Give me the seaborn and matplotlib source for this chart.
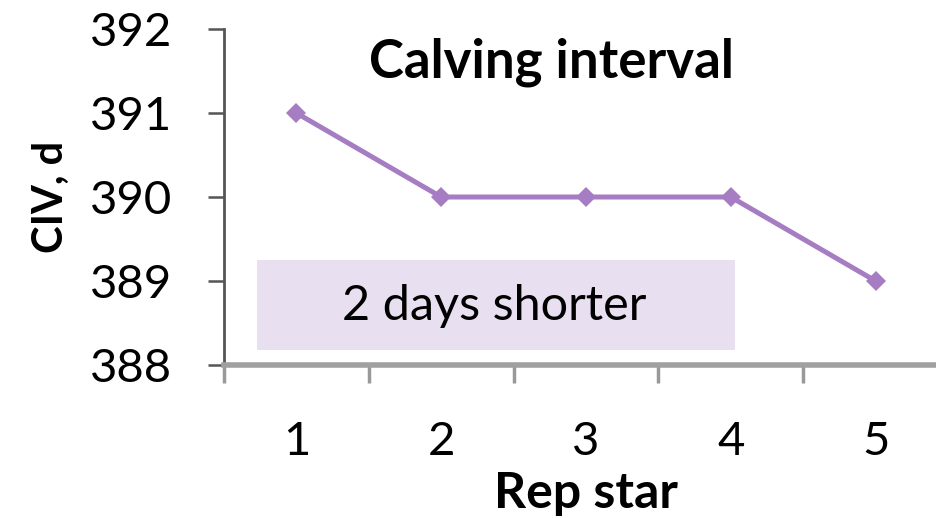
import matplotlib
matplotlib.use("Agg")
import matplotlib.pyplot as plt
import seaborn as sns
import pandas as pd
from matplotlib.patches import Rectangle

# data
rep_star = [1, 2, 3, 4, 5]
civ_days = [391, 390, 390, 390, 389]
y_ticks = [388, 389, 390, 391, 392]

df = pd.DataFrame({"Rep star": rep_star, "CIV": civ_days})

sns.set_style("white")
plt.rcParams["font.family"] = ["Lato", "DejaVu Sans"]
plt.rcParams["text.color"] = "black"
plt.rcParams["axes.labelcolor"] = "black"

fig = plt.figure(figsize=(9.36, 5.18), dpi=100)
# axes run slightly past the right edge, like the cropped original
ax = fig.add_axes([0.2393, 0.2954, 0.7735, 0.6486])

purple = "#A67CC2"
sns.lineplot(data=df, x="Rep star", y="CIV", ax=ax, color=purple, lw=3.6,
             marker="D", markersize=10, markeredgewidth=0, markerfacecolor=purple)

ax.set_xlim(0.5, 5.5)
ax.set_ylim(388, 392)
ax.set_yticks(y_ticks)
ax.set_xticks(rep_star)
ax.set_xticks([0.5, 1.5, 2.5, 3.5, 4.5, 5.5], minor=True)

ax.tick_params(axis="y", direction="out", length=11.5, width=1.8, color="#555555",
               pad=26, labelsize=34, left=True, labelcolor="black")
ax.tick_params(axis="x", which="major", length=0, pad=40, labelsize=34, bottom=True,
               labelcolor="black")
ax.tick_params(axis="x", which="minor", direction="out", length=13, width=2.5,
               color="#999999", bottom=True)

for s in ["top", "right"]:
    ax.spines[s].set_visible(False)
ax.spines["left"].set_color("#555555")
ax.spines["left"].set_linewidth(2)
ax.spines["bottom"].set_color("#A0A0A0")
ax.spines["bottom"].set_linewidth(4)

ax.set_xlabel("Rep star", fontsize=36, fontweight="bold", labelpad=6)
ax.set_ylabel("CIV, d", fontsize=30, fontweight="bold", labelpad=14)

ax.text(0.452, 0.9, "Calving interval", transform=ax.transAxes, ha="center",
        va="center", fontsize=38, fontweight="bold")

# annotation box
ax.add_patch(Rectangle((0.73, 388.18), 3.3, 1.07, facecolor="#E8E0F0",
                       edgecolor="none", zorder=0))
ax.text(2.365, 388.7, "2 days shorter", ha="center", va="center", fontsize=35)

fig.savefig("out.png", dpi=100)
